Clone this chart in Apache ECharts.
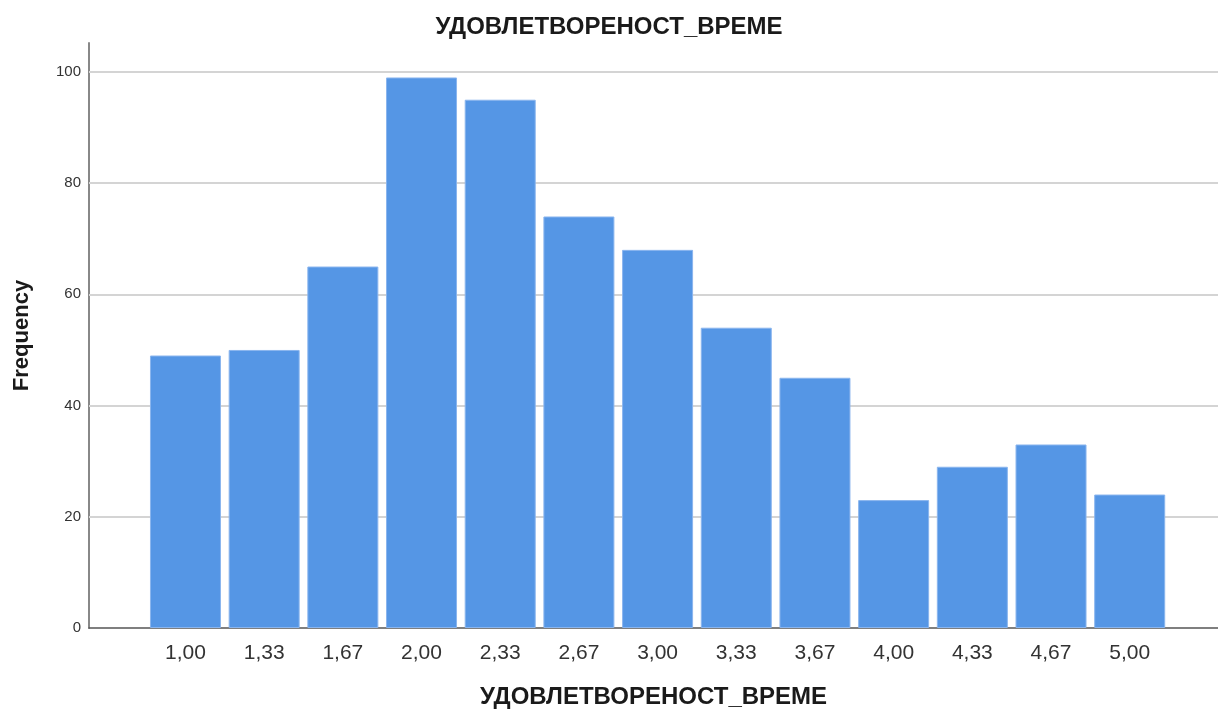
<!DOCTYPE html>
<html>
<head>
<meta charset="utf-8">
<script src="https://cdn.jsdelivr.net/npm/echarts@6/dist/echarts.min.js"></script>
<style>
html,body{margin:0;padding:0;background:#fff;}
#c{width:1218px;height:710px;}
</style>
</head>
<body>
<div id="c"></div>
<script>
const categories = ["1,00","1,33","1,67","2,00","2,33","2,67","3,00","3,33","3,67","4,00","4,33","4,67","5,00"];
const frequencies = [49, 50, 65, 99, 95, 74, 68, 54, 45, 23, 29, 33, 24];
const yTicks = [0, 20, 40, 60, 80, 100];
const titleText = "УДОВЛЕТВОРЕНОСТ_ВРЕМЕ";
const xName = "УДОВЛЕТВОРЕНОСТ_ВРЕМЕ";
const yName = "Frequency";

const chart = echarts.init(document.getElementById('c'), null, {renderer: 'canvas'});
const font = "'Liberation Sans', Arial, sans-serif";
chart.setOption({
  animation: false,
  backgroundColor: '#fff',
  title: {
    text: titleText, left: 'center', top: 10,
    textStyle: {fontFamily: font, fontSize: 24, fontWeight: 'bold', color: '#1a1a1a'}
  },
  grid: {left: 89, right: 0, top: 43, bottom: 82, containLabel: false, outerBoundsMode: 'none'},
  xAxis: {
    type: 'value',
    min: -1.226, max: 13.122,
    name: xName, nameLocation: 'middle', nameGap: 57,
    nameTextStyle: {fontFamily: font, fontSize: 24, fontWeight: 'bold', color: '#1a1a1a'},
    axisLine: {show: true, onZero: false, lineStyle: {color: '#555', width: 1.5}},
    axisTick: {show: false},
    splitLine: {show: false},
    axisLabel: {
      customValues: categories.map((c, i) => i),
      formatter: v => categories[Math.round(v)] ?? '',
      fontFamily: font, fontSize: 21, color: '#333', margin: 15
    }
  },
  yAxis: {
    type: 'value', min: 0, max: 105.2,
    name: yName, nameLocation: 'middle', nameGap: 56, nameRotate: 90,
    nameTextStyle: {fontFamily: font, fontSize: 22, fontWeight: 'bold', color: '#1a1a1a'},
    axisLine: {show: true, onZero: false, lineStyle: {color: '#888', width: 2}},
    axisTick: {show: false},
    splitLine: {show: false},
    axisLabel: {
      customValues: yTicks,
      fontFamily: font, fontSize: 15, color: '#333', margin: 8,
      padding: [3, 0, 0, 0]
    }
  },
  series: [{
    type: 'line',
    data: [],
    z: 1,
    silent: true,
    markLine: {
      z: 1,
      silent: true,
      symbol: 'none',
      label: {show: false},
      lineStyle: {color: '#d4d4d4', width: 2, type: 'solid'},
      data: yTicks.filter(v => v > 0).map(v => ({yAxis: v}))
    }
  }, {
    type: 'bar',
    z: 3,
    data: frequencies.map((v, i) => [i, v]),
    barWidth: 71,
    itemStyle: {color: '#5596e5', borderColor: '#8ab5ee', borderWidth: 1}
  }]
});
</script>
</body>
</html>
